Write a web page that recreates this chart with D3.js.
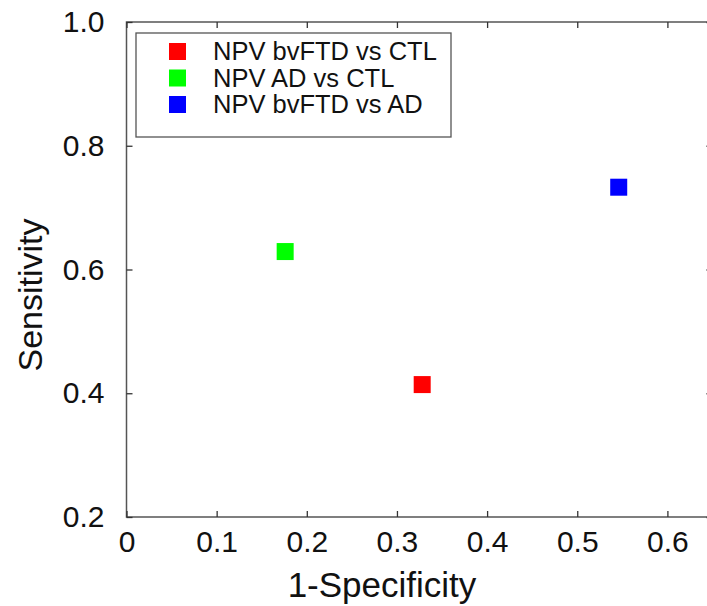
<!DOCTYPE html>
<html>
<head>
<meta charset="utf-8">
<script src="https://cdn.jsdelivr.net/npm/d3@7"></script>
<style>
  body { margin: 0; background: #fff; }
  text { font-family: Arial, "Liberation Sans", sans-serif; }
</style>
</head>
<body>
<script>
var width = 707,
    height = 606;

// data
var labels = ["NPV bvFTD vs CTL", "NPV AD vs CTL", "NPV bvFTD vs AD"];
var colors = ["#ff0000", "#00ff00", "#0000ff"];
var specificity1 = [0.328, 0.176, 0.546];   // 1-Specificity
var sensitivity = [0.414, 0.629, 0.733];
var xTicks = [0, 0.1, 0.2, 0.3, 0.4, 0.5, 0.6];
var yTicks = [0.2, 0.4, 0.6, 0.8, 1.0];

var margin = { left: 126.5, top: 22, bottom: 517 };

var x = d3.scaleLinear().domain([0, 0.65]).range([margin.left, margin.left + 0.65 * 901.5]);
var y = d3.scaleLinear().domain([0.2, 1.0]).range([margin.bottom, margin.top]);

var svg = d3.select("body").append("svg")
    .attr("width", width).attr("height", height);

svg.append("rect").attr("width", width).attr("height", height).attr("fill", "#fff");

// frame
svg.append("rect")
    .attr("x", x(0)).attr("y", y(1))
    .attr("width", x(0.65) - x(0)).attr("height", y(0.2) - y(1))
    .attr("fill", "none").attr("stroke", "#555").attr("stroke-width", 1.5);

var axisStyle = function (g) {
    g.select(".domain").remove();
    g.selectAll("line").attr("stroke", "#333").attr("stroke-width", 1.3);
    g.selectAll("text").attr("fill", "#111").style("font-size", "30px")
        .style("font-family", "Arial, 'Liberation Sans', sans-serif");
};

// bottom axis
svg.append("g")
    .attr("transform", "translate(0," + y(0.2) + ")")
    .call(d3.axisBottom(x).tickValues(xTicks).tickSizeInner(-6).tickSizeOuter(0)
        .tickPadding(14).tickFormat(d3.format("")))
    .call(axisStyle);

// top axis ticks
svg.append("g")
    .attr("transform", "translate(0," + y(1) + ")")
    .call(d3.axisTop(x).tickValues(xTicks).tickSizeInner(-6).tickSizeOuter(0).tickFormat(""))
    .call(axisStyle);

// left axis
svg.append("g")
    .attr("transform", "translate(" + x(0) + ",0)")
    .call(d3.axisLeft(y).tickValues(yTicks).tickSizeInner(-6).tickSizeOuter(0)
        .tickPadding(22).tickFormat(d3.format(".1f")))
    .call(axisStyle);

// right axis ticks
svg.append("g")
    .attr("transform", "translate(" + x(0.65) + ",0)")
    .call(d3.axisRight(y).tickValues(yTicks).tickSizeInner(-6).tickSizeOuter(0).tickFormat(""))
    .call(axisStyle);

// axis titles
svg.append("text")
    .attr("x", 382).attr("y", 597)
    .attr("text-anchor", "middle")
    .style("font-size", "35px").attr("fill", "#111")
    .text("1-Specificity");

svg.append("text")
    .attr("transform", "translate(42,295) rotate(-90)")
    .attr("text-anchor", "middle")
    .style("font-size", "34px").attr("fill", "#111")
    .text("Sensitivity");

// points
var sq = 17;
svg.append("g").selectAll("rect")
    .data(labels)
    .enter()
    .append("rect")
    .attr("x", function (d, i) { return x(specificity1[i]) - sq / 2; })
    .attr("y", function (d, i) { return y(sensitivity[i]) - sq / 2; })
    .attr("width", sq).attr("height", sq)
    .attr("fill", function (d, i) { return colors[i]; });

// legend
var legend = svg.append("g").attr("transform", "translate(136,33)");
legend.append("rect")
    .attr("width", 315).attr("height", 104)
    .attr("fill", "#fff").attr("stroke", "#555").attr("stroke-width", 1.3);

var item = legend.selectAll("g.item")
    .data(labels)
    .enter()
    .append("g")
    .attr("class", "item")
    .attr("transform", function (d, i) { return "translate(0," + (18 + i * 26.5) + ")"; });

item.append("rect")
    .attr("x", 33).attr("y", -8)
    .attr("width", 17).attr("height", 17)
    .attr("fill", function (d, i) { return colors[i]; });

item.append("text")
    .attr("x", 77).attr("y", 9)
    .style("font-size", "25.5px").attr("fill", "#111")
    .text(function (d) { return d; });
</script>
</body>
</html>
